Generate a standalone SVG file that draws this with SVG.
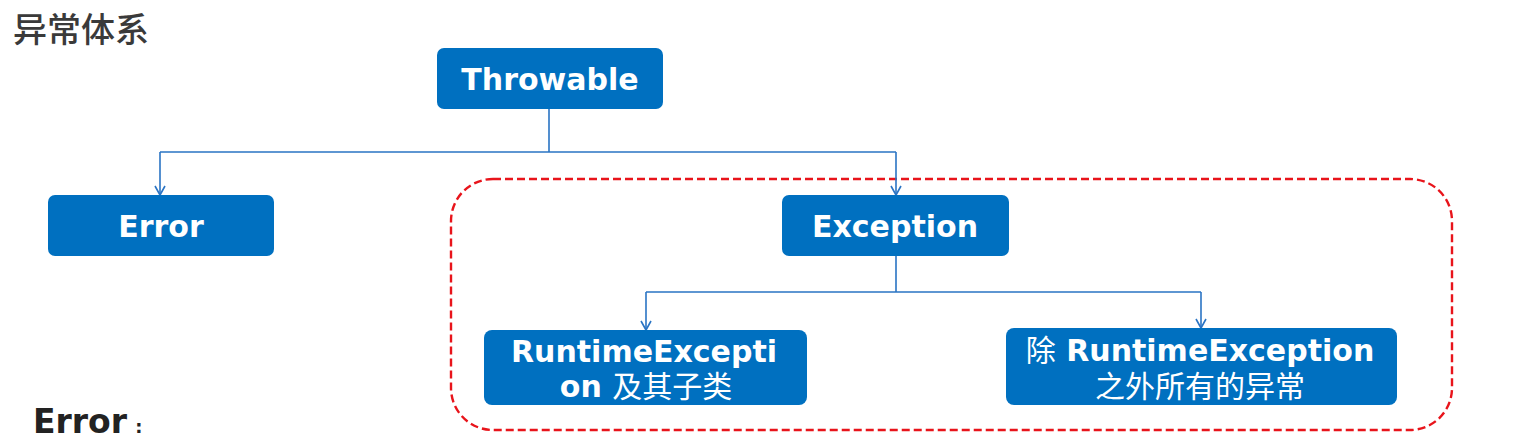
<svg xmlns="http://www.w3.org/2000/svg" width="1527" height="438" viewBox="0 0 1527 438">
<style>
.box{fill:#0070C0;}
.lbl{font-family:"DejaVu Sans","Noto Sans CJK SC",sans-serif;font-weight:bold;font-size:30px;fill:#fff;text-anchor:middle;}
.cjk{font-family:"Noto Sans CJK SC",sans-serif;font-weight:normal;}
.conn{fill:none;stroke:#2A74C4;stroke-width:1.6;}
</style>
<defs>
<marker id="arr" markerWidth="12" markerHeight="12" refX="10" refY="6" orient="auto" markerUnits="userSpaceOnUse">
<path d="M1,1 L10,6 L1,11" fill="none" stroke="#2A74C4" stroke-width="1.6"/>
</marker>
</defs>
<rect width="1527" height="438" fill="#fff"/>
<text x="13" y="42" font-family="Noto Sans CJK SC, sans-serif" font-weight="500" font-size="34" fill="#3a3a3a">异常体系</text>
<rect x="451" y="179" width="1001" height="251" rx="42" fill="none" stroke="#E8141B" stroke-width="2.4" stroke-dasharray="8,4"/>
<g id="connectors">
<path class="conn" d="M549,108 V152 M160,152 H896"/>
<path class="conn" d="M160,152 V195" marker-end="url(#arr)"/>
<path class="conn" d="M896,152 V195" marker-end="url(#arr)"/>
<path class="conn" d="M896,256 V292 M646,292 H1201"/>
<path class="conn" d="M646,292 V330" marker-end="url(#arr)"/>
<path class="conn" d="M1201,292 V328" marker-end="url(#arr)"/>
</g>
<g id="throwable">
<rect class="box" x="437" y="48" width="226" height="61" rx="7"/>
<text class="lbl" x="550" y="90">Throwable</text>
</g>
<g id="error">
<rect class="box" x="48" y="195" width="226" height="61" rx="7"/>
<text class="lbl" x="161" y="237">Error</text>
</g>
<g id="exception">
<rect class="box" x="782" y="195" width="227" height="61" rx="7"/>
<text class="lbl" x="895" y="237">Exception</text>
</g>
<g id="runtime">
<rect class="box" x="484" y="330" width="323" height="75" rx="8"/>
<text class="lbl" x="644" y="362">RuntimeExcepti</text>
<text class="lbl" x="646" y="397">on <tspan class="cjk" font-size="30">及其子类</tspan></text>
</g>
<g id="others">
<rect class="box" x="1006" y="328" width="391" height="77" rx="8"/>
<text class="lbl" x="1200" y="361"><tspan class="cjk" font-size="30">除</tspan> RuntimeException</text>
<text class="lbl cjk" x="1200" y="397" font-size="30">之外所有的异常</text>
</g>
<text x="33" y="433" font-family="DejaVu Sans, sans-serif" font-weight="bold" font-size="33" fill="#222">Error<tspan font-size="18" dx="2"> :</tspan></text>
</svg>
